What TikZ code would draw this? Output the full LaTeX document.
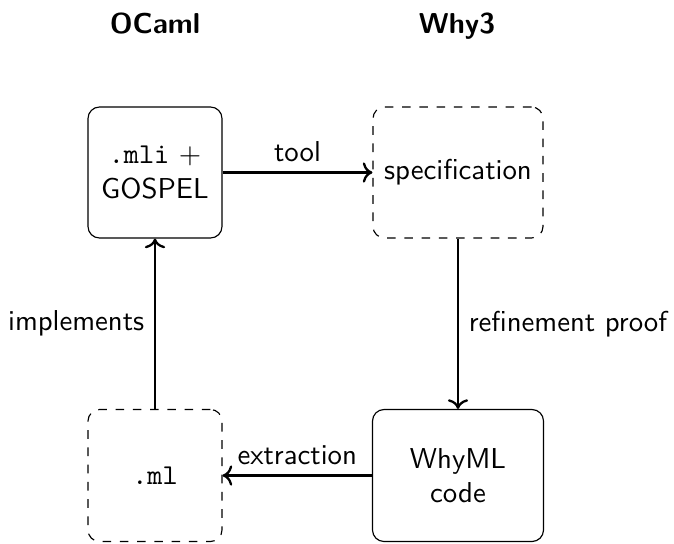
\documentclass[tikz,border=0pt]{standalone}
\usetikzlibrary{arrows.meta}
\def\pxu{0.3476pt}
\begin{document}
\begin{tikzpicture}[x=\pxu, y=-\pxu, font=\sffamily,
  box/.style={draw, rounded corners=4pt, align=center, inner sep=0pt},
  dbox/.style={box, dashed},
  conn/.style={thick, ->},
  title/.style={font=\sffamily\bfseries, anchor=base}]
\useasboundingbox (0,0) rectangle (674,543);
\node[title] (ocaml) at (155,33) {OCaml};
\node[title] (why3) at (457,33) {Why3};
\node[box, minimum width=134*\pxu, minimum height=131*\pxu] (mli) at (155,172.5) {\texttt{.mli} $+$\\GOSPEL};
\node[dbox, minimum width=170*\pxu, minimum height=131*\pxu] (spec) at (458,172.5) {specification};
\node[dbox, minimum width=134*\pxu, minimum height=132*\pxu] (ml) at (155,475.5) {\texttt{.ml}};
\node[box, minimum width=171*\pxu, minimum height=132*\pxu] (whyml) at (458,475.5) {WhyML\\code};
\draw[conn] (mli) -- node[above] {tool} (spec);
\draw[conn] (spec) -- node[right] {refinement proof} (whyml);
\draw[conn] (whyml) -- node[above] {extraction} (ml);
\draw[conn] (ml) -- node[left] {implements} (mli);
\end{tikzpicture}
\end{document}
